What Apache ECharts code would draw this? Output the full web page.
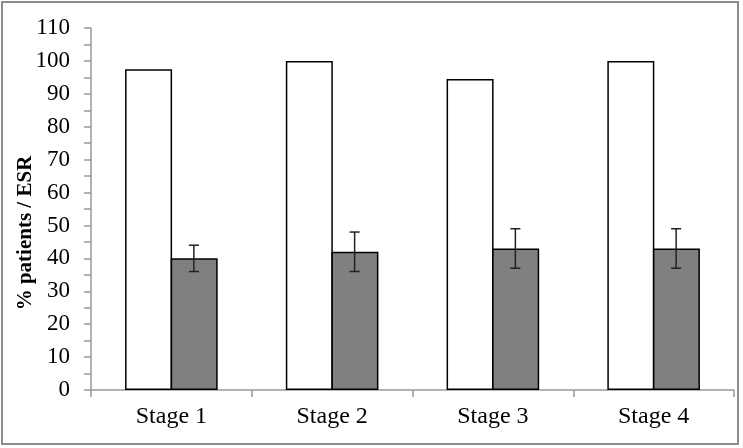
<!DOCTYPE html>
<html>
<head>
<meta charset="utf-8">
<script src="https://cdn.jsdelivr.net/npm/echarts@6/dist/echarts.min.js"></script>
<style>html,body{margin:0;padding:0;background:#fff}#c{width:743px;height:448px}</style>
</head>
<body>
<div id="c"></div>
<script>
const categories = ['Stage 1', 'Stage 2', 'Stage 3', 'Stage 4'];
const patientsPct = [97.5, 100, 94.5, 100];
const esrMean = [40, 42, 43, 43];
const esrLow = [36, 36, 37, 37];
const esrHigh = [44, 48, 49, 49];
const yTicks = [0, 10, 20, 30, 40, 50, 60, 70, 80, 90, 100, 110];

const BAR_W = 47;
const chart = echarts.init(document.getElementById('c'), null, {renderer: 'canvas'});
const font = 'Liberation Serif, Times New Roman, serif';

chart.setOption({
  animation: false,
  backgroundColor: '#fff',
  grid: {left: 91, right: 9, top: 28, bottom: 58, containLabel: false},
  graphic: [
    {type: 'rect', shape: {x: 2, y: 2, width: 736, height: 442},
     style: {fill: 'none', stroke: '#8c8c8c', lineWidth: 2}, silent: true, z: 0},
    {type: 'text', x: 26, y: 233, rotation: Math.PI / 2,
     style: {text: '% patients / ESR', font: 'bold 21px ' + font, fill: '#000',
             align: 'center', verticalAlign: 'middle'}}
  ],
  xAxis: {
    type: 'category',
    data: categories,
    boundaryGap: true,
    axisLine: {lineStyle: {color: '#999', width: 1.5}},
    axisTick: {show: true, length: 7, lineStyle: {color: '#999', width: 1.5}},
    axisLabel: {fontFamily: font, fontSize: 24, color: '#000', margin: 15},
    splitLine: {show: false}
  },
  yAxis: {
    type: 'value',
    min: 0, max: 110, interval: 10,
    axisLine: {show: true, lineStyle: {color: '#999', width: 1.5}},
    axisTick: {show: true, length: 7, lineStyle: {color: '#999', width: 1.5}},
    minorTick: {show: true, splitNumber: 2, length: 7, lineStyle: {color: '#999', width: 1.5}},
    axisLabel: {fontFamily: font, fontSize: 23, color: '#000', margin: 21,
                formatter: v => yTicks.includes(v) ? String(v) : ''},
    splitLine: {show: false}
  },
  series: [
    {
      name: '% patients', type: 'bar', data: patientsPct,
      barWidth: BAR_W, barGap: '-3%',
      itemStyle: {color: '#fff', borderColor: '#000', borderWidth: 1.5}
    },
    {
      name: 'ESR', type: 'bar', data: esrMean,
      barWidth: BAR_W, barGap: '-3%',
      itemStyle: {color: '#808080', borderColor: '#000', borderWidth: 1.5}
    },
    {
      name: 'ESR error', type: 'custom',
      data: categories.map((c, i) => [i, esrLow[i], esrHigh[i]]),
      encode: {x: 0, y: [1, 2]},
      z: 10,
      renderItem: function (params, api) {
        const i = api.value(0);
        const lo = api.coord([i, api.value(1)]);
        const hi = api.coord([i, api.value(2)]);
        const x = lo[0] + BAR_W / 2 - 1;
        const cap = 5;
        const st = {stroke: '#222', lineWidth: 1.5};
        return {type: 'group', children: [
          {type: 'line', shape: {x1: x, y1: lo[1], x2: x, y2: hi[1]}, style: st},
          {type: 'line', shape: {x1: x - cap, y1: lo[1], x2: x + cap, y2: lo[1]}, style: st},
          {type: 'line', shape: {x1: x - cap, y1: hi[1], x2: x + cap, y2: hi[1]}, style: st}
        ]};
      }
    }
  ]
});
</script>
</body>
</html>
